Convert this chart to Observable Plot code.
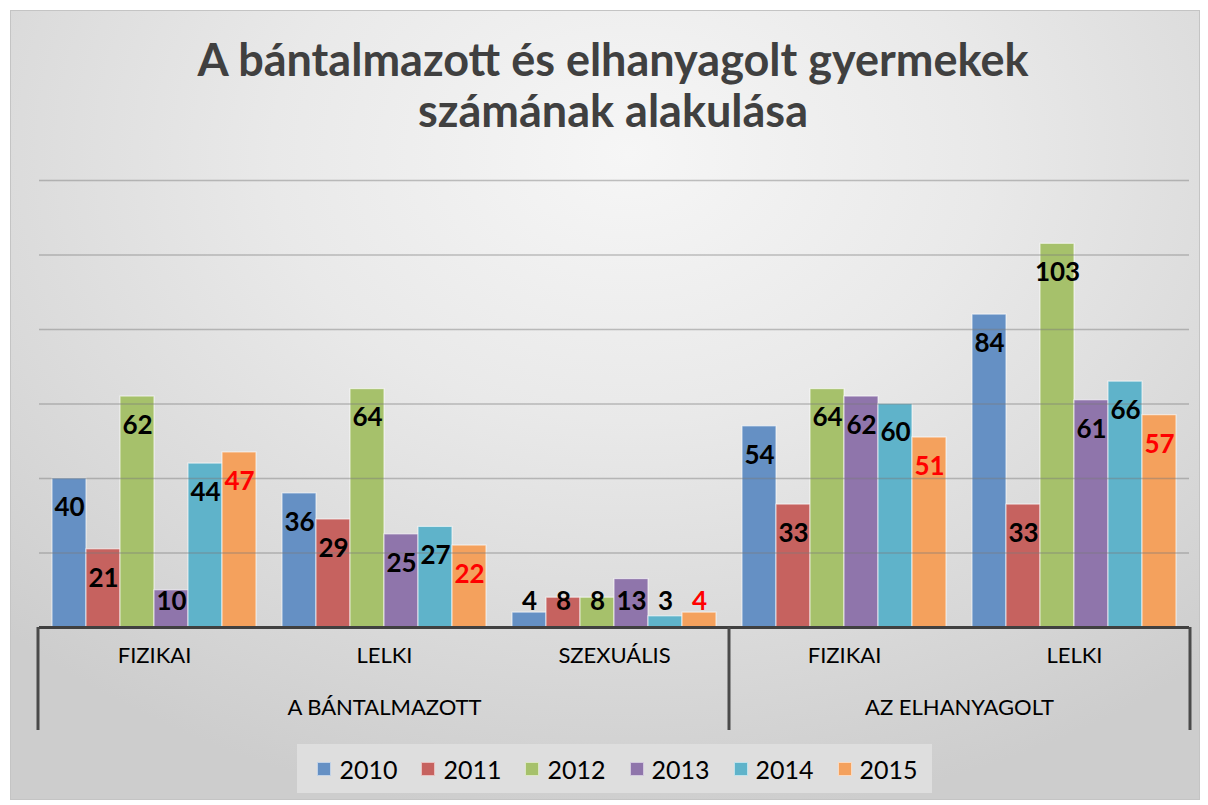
<!DOCTYPE html>
<html>
<head>
<meta charset="utf-8">
<script src="https://cdn.jsdelivr.net/npm/d3@7"></script>
<script src="https://cdn.jsdelivr.net/npm/@observablehq/plot@0.6"></script>
<style>
  html, body { margin: 0; padding: 0; background: #ffffff; }
  #page { position: relative; width: 1208px; height: 805px; overflow: hidden; font-family: Lato, "Open Sans", sans-serif; }
  #panel { position: absolute; left: 10px; top: 10px; width: 1190px; height: 790px; box-sizing: border-box;
    border: 1px solid #c4c4c4;
    background: radial-gradient(ellipse 75% 85% at 52% 18%, #f6f6f6 0%, #e9e9e9 40%, #d9d9d9 75%, #cdcdcd 100%); }
  #title { position: absolute; left: 18px; width: 1190px; top: 34px; text-align: center; color: #404040;
    font-weight: 700; font-size: 45px; line-height: 51px; }
  #chart { position: absolute; left: 0; top: 150px; }
  #legend { position: absolute; left: 297px; top: 744px; width: 635px; height: 49px; background: #dedede;
    display: flex; align-items: center; justify-content: center; gap: 0; padding-left: 6px; box-sizing: border-box; }
  .item { display: flex; align-items: center; margin: 0 12px; font-size: 25px; color: #000; }
  .sw { width: 14px; height: 14px; margin-right: 8px; box-sizing: border-box; border: 1px solid rgba(255,255,255,0.6); }
</style>
</head>
<body>
<div id="page">
  <div id="panel"></div>
  <div id="title">A bántalmazott és elhanyagolt gyermekek<br>számának alakulása</div>
  <div id="chart"></div>
  <div id="legend"></div>
</div>
<script>
// ---- data ----
const groups = ["A BÁNTALMAZOTT", "A BÁNTALMAZOTT", "A BÁNTALMAZOTT", "AZ ELHANYAGOLT", "AZ ELHANYAGOLT"];
const categories = ["FIZIKAI", "LELKI", "SZEXUÁLIS", "FIZIKAI", "LELKI"];
const years = ["2010", "2011", "2012", "2013", "2014", "2015"];
const values2010 = [40, 36, 4, 54, 84];
const values2011 = [21, 29, 8, 33, 33];
const values2012 = [62, 64, 8, 64, 103];
const values2013 = [10, 25, 13, 62, 61];
const values2014 = [44, 27, 3, 60, 66];
const values2015 = [47, 22, 4, 51, 57];
const gridTicks = [20, 40, 60, 80, 100, 120];
const colors = ["#6590c4", "#c6625f", "#a6c16b", "#8f75ab", "#5fb3ca", "#f4a15d"];

// ---- build table ----
const series = [values2010, values2011, values2012, values2013, values2014, values2015];
const keys = categories.map((c, i) => groups[i] + " · " + c);
const rows = [];
keys.forEach((k, i) => {
  years.forEach((y, j) => {
    rows.push({key: k, category: categories[i], group: groups[i], year: y, value: series[j][i]});
  });
});
const catRows = keys.map((k, i) => ({key: k, label: categories[i]}));
// group labels: centred on the middle of the group span
const groupRows = [
  {key: keys[1], label: groups[0]},
  {key: keys[3], label: groups[3]}
];
const labelY = d => Math.max(d.value - 7.8, 7);

const plot = Plot.plot({
  width: 1208,
  height: 600,
  marginTop: 30,
  marginBottom: 123,
  marginLeft: 38,
  marginRight: 18,
  style: {background: "transparent", fontFamily: "Lato, 'Open Sans', sans-serif", overflow: "visible"},
  fx: {domain: keys, padding: 0, axis: null},
  x: {domain: years, paddingInner: 0, paddingOuter: 0.34, axis: null},
  y: {domain: [0, 120], axis: null},
  color: {domain: years, range: colors},
  marks: [
    Plot.barY(rows, {fx: "key", x: "year", y: "value", fill: "year", stroke: "#ffffff", strokeOpacity: 0.6, strokeWidth: 1.2}),
    Plot.ruleY(gridTicks, {stroke: "#7a7a7a", strokeOpacity: 0.45, strokeWidth: 1.5}),
    Plot.ruleY([0], {stroke: "#404040", strokeWidth: 3}),
    Plot.text(rows, {filter: d => d.year !== "2015", fx: "key", x: "year", y: labelY, text: d => String(d.value),
      fill: "#000", fontWeight: 700, fontSize: 26}),
    Plot.text(rows, {filter: d => d.year === "2015", fx: "key", x: "year", y: labelY, text: d => String(d.value),
      fill: "#ff0000", fontWeight: 700, fontSize: 26}),
    Plot.text(catRows, {fx: "key", text: "label", frameAnchor: "bottom", dy: 35, fontSize: 22, fill: "#000"}),
    Plot.text(groupRows.slice(0, 1), {fx: "key", text: "label", frameAnchor: "bottom", dy: 87, fontSize: 22, fill: "#000"}),
    Plot.text(groupRows.slice(1), {fx: "key", text: "label", frameAnchor: "bottom-right", textAnchor: "middle", dy: 87, fontSize: 22, fill: "#000"})
  ]
});
document.getElementById("chart").appendChild(plot);

// ---- hierarchical axis separators, placed from the plot's own scales ----
const fxs = plot.scale("fx");
const ys = plot.scale("y");
const step = (fxs.range[1] - fxs.range[0]) / fxs.domain.length;
const fxStart = k => fxs.apply ? fxs.apply(k) : fxs.range[0] + fxs.domain.indexOf(k) * step;
const base = ys.apply ? ys.apply(0) : ys.range[0];
const sepX = [fxs.range[0], fxStart(keys[3]), fxs.range[1]];
d3.select(plot).append("g")
  .selectAll("line").data(sepX).join("line")
  .attr("x1", d => d).attr("x2", d => d)
  .attr("y1", base).attr("y2", base + 103)
  .attr("stroke", "#4a4a4a").attr("stroke-width", 3);

// ---- legend ----
const legend = d3.select("#legend");
years.forEach((y, i) => {
  const it = legend.append("div").attr("class", "item");
  it.append("div").attr("class", "sw").style("background", colors[i]);
  it.append("span").text(y);
});
</script>
</body>
</html>
